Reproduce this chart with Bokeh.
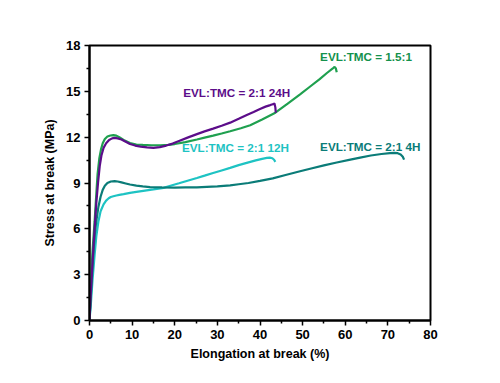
from bokeh.plotting import figure
from bokeh.models import Range1d, FixedTicker, Label
from bokeh.embed import file_html
from bokeh.resources import INLINE

# Data
x_24h = [0, 0.3, 0.7, 1.2, 1.6, 2.0, 2.4, 2.8, 3.3, 3.9, 4.6, 5.3, 5.9, 6.6, 7.5, 8.5, 9.5, 10.7, 12, 13.5, 15, 16.5, 18, 19.5, 21, 23, 25.2, 27, 29, 31, 33, 35, 36.9, 38.5, 40, 41.3, 42.4, 43.0, 43.4, 43.6, 43.7]
y_24h = [0, 1.8, 3.8, 6.0, 7.7, 9.0, 10.1, 10.8, 11.3, 11.6, 11.82, 11.92, 11.95, 11.92, 11.85, 11.7, 11.55, 11.45, 11.38, 11.33, 11.3, 11.35, 11.45, 11.58, 11.75, 11.97, 12.2, 12.38, 12.56, 12.75, 12.95, 13.2, 13.45, 13.65, 13.85, 14.0, 14.1, 14.16, 14.2, 13.95, 13.6]

x_15 = [0, 0.3, 0.7, 1.2, 1.6, 1.9, 2.3, 2.7, 3.1, 3.6, 4.2, 4.9, 5.6, 6.3, 7, 8, 9.5, 11, 12.5, 14.5, 16.6, 18.5, 20, 22.5, 25.2, 27, 29, 31, 33, 35.5, 37.7, 40.5, 43.6, 46.5, 49.4, 51.7, 54, 55.7, 57.0, 57.5, 57.8, 58.0]
y_15 = [0, 2.2, 4.5, 6.5, 8.3, 9.6, 10.6, 11.2, 11.6, 11.88, 12.04, 12.11, 12.13, 12.1, 12.0, 11.82, 11.62, 11.52, 11.49, 11.47, 11.47, 11.5, 11.55, 11.68, 11.85, 11.97, 12.1, 12.24, 12.39, 12.58, 12.78, 13.15, 13.6, 14.2, 14.8, 15.3, 15.8, 16.2, 16.48, 16.6, 16.5, 16.25]

x_12h = [0, 0.3, 0.7, 1.2, 1.6, 2.1, 2.6, 3.3, 3.9, 4.5, 5.0, 5.6, 6.3, 7, 8, 9.5, 11, 13, 15, 17.4, 19, 21, 23, 25.2, 27, 29, 31, 33, 35, 37.3, 39, 40.5, 41.6, 42.3, 42.9, 43.3, 43.6]
y_12h = [0, 1.0, 2.6, 4.3, 5.5, 6.5, 7.15, 7.6, 7.85, 8.0, 8.08, 8.13, 8.18, 8.22, 8.27, 8.35, 8.42, 8.5, 8.58, 8.68, 8.82, 8.98, 9.15, 9.33, 9.48, 9.65, 9.82, 9.99, 10.17, 10.35, 10.48, 10.58, 10.64, 10.66, 10.62, 10.52, 10.38]

x_4h = [0, 0.3, 0.6, 1.0, 1.3, 1.6, 2.1, 2.6, 3.1, 3.6, 4.2, 5.0, 5.9, 6.6, 7.5, 8.5, 9.5, 11, 12.5, 14.2, 17, 20, 22.5, 25.2, 27.5, 30, 33, 35, 37.3, 40, 43, 46, 49.4, 52, 55, 58, 61.2, 63.5, 66, 68.5, 70.5, 71.5, 72.3, 73.0, 73.5, 73.8]
y_4h = [0, 1.5, 3.0, 4.8, 5.8, 6.5, 7.45, 8.1, 8.55, 8.82, 9.0, 9.1, 9.12, 9.1, 9.04, 8.97, 8.9, 8.83, 8.78, 8.73, 8.71, 8.7, 8.71, 8.72, 8.75, 8.78, 8.85, 8.92, 9.0, 9.14, 9.3, 9.52, 9.77, 9.95, 10.15, 10.34, 10.53, 10.66, 10.8, 10.9, 10.96, 10.97, 10.95, 10.87, 10.72, 10.53]

x_ticks = [0, 10, 20, 30, 40, 50, 60, 70, 80]
x_minor = [5, 15, 25, 35, 45, 55, 65, 75]
y_ticks = [0, 3, 6, 9, 12, 15, 18]
y_minor = [1.5, 4.5, 7.5, 10.5, 13.5, 16.5]

labels = ["EVL:TMC = 2:1 24H", "EVL:TMC = 1.5:1", "EVL:TMC = 2:1 12H", "EVL:TMC = 2:1 4H"]
label_x = [22.0, 54.1, 21.7, 54.1]
label_y = [14.94, 17.3, 11.35, 11.4]

c_24h = "#5c0d8a"
c_15 = "#1fa04f"
c_12h = "#1ec3c3"
c_4h = "#0b7c78"
colors = [c_24h, "#14914c", c_12h, c_4h]

FONT = "Liberation Sans"

p = figure(frame_width=341, frame_height=275, min_border_left=89, min_border_top=45,
           min_border_right=54, min_border_bottom=55,
           x_range=Range1d(0, 80), y_range=Range1d(0, 18),
           output_backend="svg", toolbar_location=None)

p.line(x_12h, y_12h, line_color=c_12h, line_width=2.2)
p.line(x_4h, y_4h, line_color=c_4h, line_width=2.2)
p.line(x_15, y_15, line_color=c_15, line_width=2.2)
p.line(x_24h, y_24h, line_color=c_24h, line_width=2.2)

for t, lx, ly, c in zip(labels, label_x, label_y, colors):
    p.add_layout(Label(x=lx, y=ly, text=t, text_color=c, text_font=FONT,
                       text_font_style="bold", text_font_size="11.7px",
                       text_baseline="middle", text_align="left"))

p.xgrid.visible = False
p.ygrid.visible = False
p.outline_line_color = "black"
p.outline_line_width = 2
p.outline_line_alpha = 1

p.xaxis.ticker = FixedTicker(ticks=x_ticks, minor_ticks=x_minor)
p.yaxis.ticker = FixedTicker(ticks=y_ticks, minor_ticks=y_minor)
p.xaxis.axis_label = "Elongation at break (%)"
p.yaxis.axis_label = "Stress at break (MPa)"

for ax in (p.xaxis, p.yaxis):
    ax.axis_line_width = 2
    ax.axis_line_color = "black"
    ax.major_tick_in = 0
    ax.major_tick_out = 5
    ax.minor_tick_in = 0
    ax.minor_tick_out = 3
    ax.major_tick_line_width = 1.5
    ax.minor_tick_line_width = 1.5
    ax.major_label_text_font = FONT
    ax.major_label_text_font_style = "bold"
    ax.major_label_text_font_size = "13px"
    ax.major_label_text_color = "black"
    ax.axis_label_text_font = FONT
    ax.axis_label_text_font_style = "bold"
    ax.axis_label_text_font_size = "12.5px"
    ax.axis_label_text_color = "black"

p.xaxis.major_label_standoff = 4
p.yaxis.major_label_standoff = 4
p.xaxis.axis_label_standoff = 5
p.yaxis.axis_label_standoff = 6

open("out.html", "w").write(file_html(p, INLINE))
